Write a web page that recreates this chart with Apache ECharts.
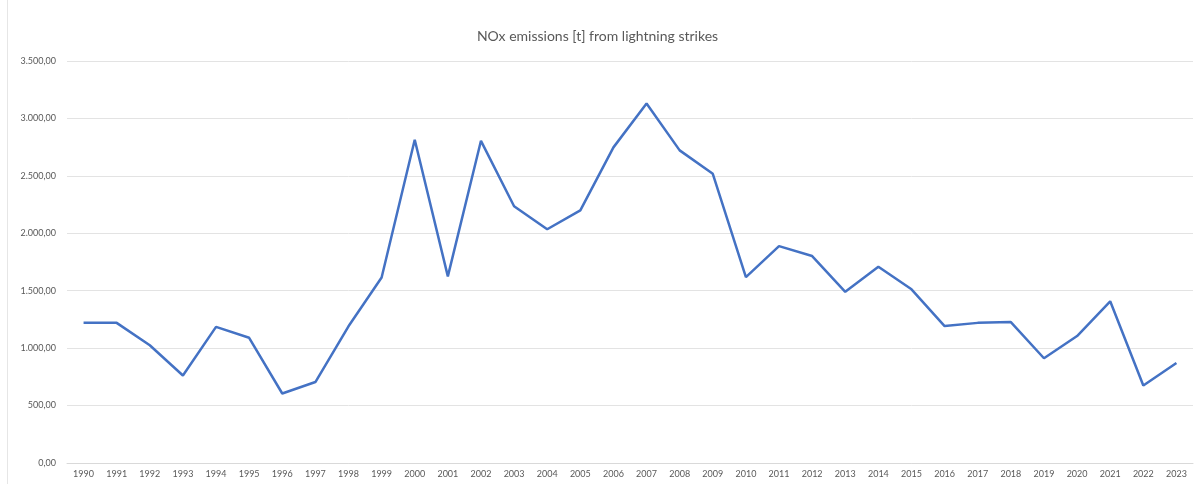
<!DOCTYPE html>
<html>
<head>
<meta charset="utf-8">
<script src="https://cdn.jsdelivr.net/npm/echarts@6/dist/echarts.min.js"></script>
<style>
  html, body { margin: 0; padding: 0; background: #fff; }
  #chart { width: 1195px; height: 484px; }
</style>
</head>
<body>
<div id="chart"></div>
<script>
// years on the x axis
const years = ['1990', '1991', '1992', '1993', '1994', '1995', '1996', '1997', '1998', '1999',
    '2000', '2001', '2002', '2003', '2004', '2005', '2006', '2007', '2008', '2009',
    '2010', '2011', '2012', '2013', '2014', '2015', '2016', '2017', '2018', '2019',
    '2020', '2021', '2022', '2023'];
// NOx emissions in t
const noxValues = [1220, 1220, 1025, 762, 1185, 1090, 605, 705, 1190, 1615,
    2815, 1625, 2805, 2235, 2035, 2200, 2748, 3130, 2722, 2518,
    1618, 1888, 1802, 1490, 1708, 1512, 1192, 1220, 1227, 912,
    1105, 1408, 675, 870];
const yTicks = [0, 500, 1000, 1500, 2000, 2500, 3000, 3500];

const fontFamily = 'Lato, "Open Sans", sans-serif';

// german number format: 3.500,00
function deNumber(v) {
    let parts = v.toFixed(2).split('.');
    parts[0] = parts[0].replace(/\B(?=(\d{3})+(?!\d))/g, '.');
    return parts.join(',');
}

let chart = echarts.init(document.getElementById('chart'));
chart.setOption({
    backgroundColor: '#ffffff',
    animation: false,
    title: {
        text: 'NOx emissions [t] from lightning strikes',
        left: 'center',
        top: 24,
        textStyle: {
            fontFamily: fontFamily,
            fontSize: 14,
            fontWeight: 'normal',
            color: '#595959'
        }
    },
    grid: {
        left: 67,
        right: 2,
        top: 61,
        bottom: 21
    },
    xAxis: {
        type: 'category',
        data: years,
        boundaryGap: true,
        axisLine: { show: true, lineStyle: { color: '#d9d9d9', width: 1 } },
        axisTick: { show: false },
        axisLabel: {
            interval: 0,
            fontFamily: fontFamily,
            fontSize: 9,
            color: '#595959',
            margin: 7
        }
    },
    yAxis: {
        type: 'value',
        min: yTicks[0],
        max: yTicks[yTicks.length - 1],
        interval: 500,
        axisLine: { show: false },
        axisTick: { show: false },
        splitLine: { lineStyle: { color: '#e3e3e3', width: 1 } },
        axisLabel: {
            fontFamily: fontFamily,
            fontSize: 9,
            color: '#595959',
            margin: 11,
            formatter: deNumber
        }
    },
    series: [
        {
            name: 'NOx',
            type: 'line',
            data: noxValues,
            symbol: 'none',
            smooth: false,
            lineStyle: { color: '#4472c4', width: 2.5 },
            itemStyle: { color: '#4472c4' }
        }
    ],
    graphic: [
        {
            type: 'line',
            shape: { x1: 7.5, y1: 0, x2: 7.5, y2: 484 },
            style: { stroke: '#e6e6e6', lineWidth: 1 }
        }
    ]
});
</script>
</body>
</html>
